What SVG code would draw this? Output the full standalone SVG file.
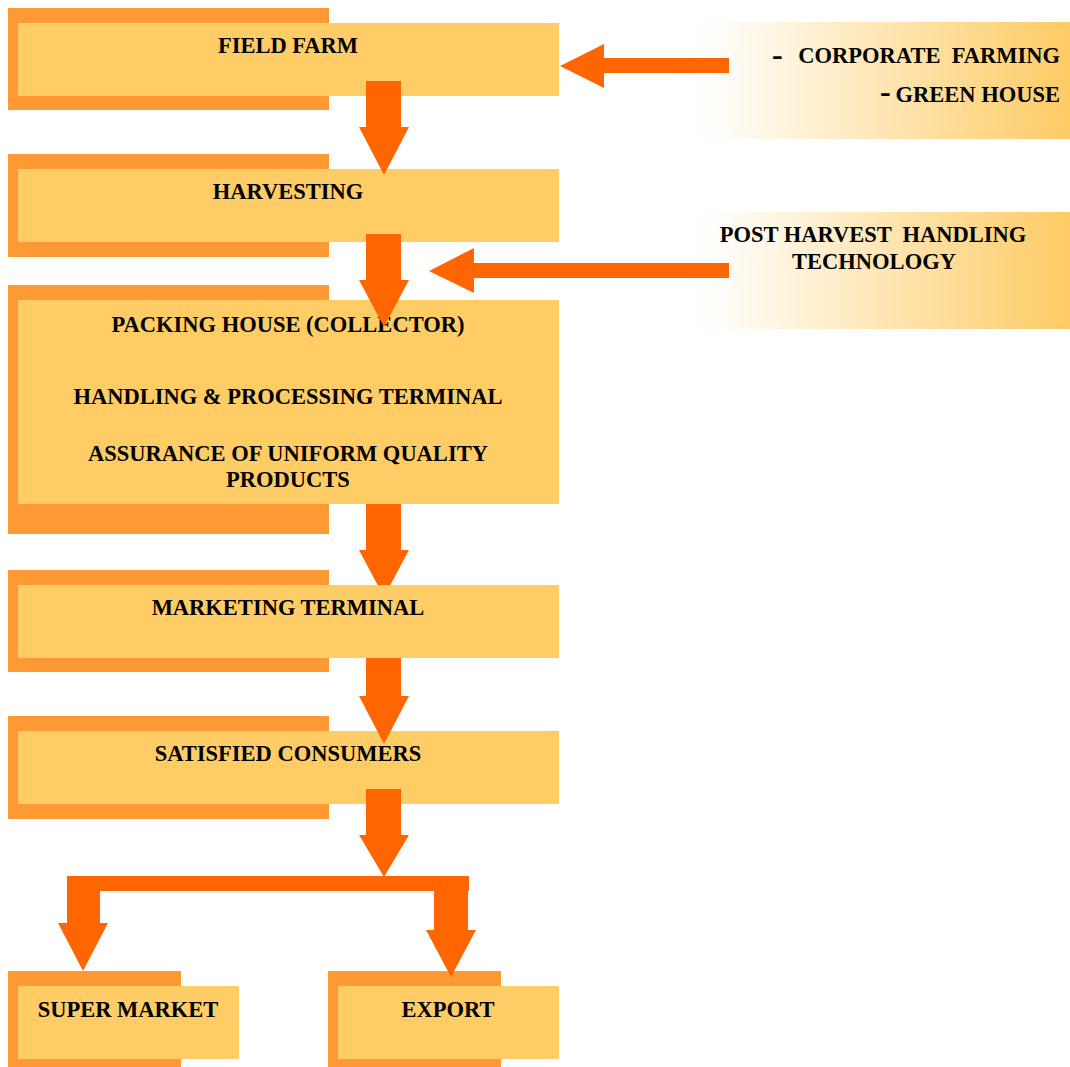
<svg xmlns="http://www.w3.org/2000/svg" width="1070" height="1067" viewBox="0 0 1070 1067">
  <defs>
    <linearGradient id="fade" x1="0" y1="0" x2="1" y2="0">
      <stop offset="0" stop-color="#FFFFFF"/>
      <stop offset="0.1" stop-color="#FFFDF9"/>
      <stop offset="1" stop-color="#FECB65"/>
    </linearGradient>
    <style>
      .back { fill: #FF9933; }
      .front { fill: #FFCC66; }
      .side { fill: url(#fade); }
      .arrow { fill: #FF6600; }
      text { font-family: "Liberation Serif", "Times New Roman", serif; font-weight: bold; font-size: 22.5px; fill: #000; white-space: pre; }
      .c { text-anchor: middle; }
      .r { text-anchor: end; }
      .dash { font-size: 32px; }
    </style>
  </defs>
  <rect width="1070" height="1067" fill="#FFFFFF"/>

  <g id="field-farm">
    <rect class="back" x="8" y="8" width="321" height="102"/>
    <rect class="front" x="18" y="23" width="541" height="73"/>
    <text class="c" x="288" y="53">FIELD FARM</text>
  </g>

  <g id="harvesting">
    <rect class="back" x="8" y="154" width="321" height="103"/>
    <rect class="front" x="18" y="169" width="541" height="73"/>
    <text class="c" x="288" y="199">HARVESTING</text>
  </g>

  <g id="packing-house">
    <rect class="back" x="8" y="285" width="321" height="249"/>
    <rect class="front" x="18" y="300" width="541" height="204"/>
    <text class="c" x="288" y="332">PACKING HOUSE (COLLECTOR)</text>
    <text class="c" x="288" y="404">HANDLING &amp; PROCESSING TERMINAL</text>
    <text class="c" x="288" y="461">ASSURANCE OF UNIFORM QUALITY</text>
    <text class="c" x="288" y="487">PRODUCTS</text>
  </g>

  <g id="marketing-terminal">
    <rect class="back" x="8" y="570" width="321" height="102"/>
    <rect class="front" x="18" y="585" width="541" height="73"/>
    <text class="c" x="288" y="615">MARKETING TERMINAL</text>
  </g>

  <g id="satisfied-consumers">
    <rect class="back" x="8" y="716" width="321" height="103"/>
    <rect class="front" x="18" y="731" width="541" height="73"/>
    <text class="c" x="288" y="761">SATISFIED CONSUMERS</text>
  </g>

  <g id="super-market">
    <rect class="back" x="8" y="971" width="173" height="96"/>
    <rect class="front" x="18" y="986" width="221" height="73"/>
    <text class="c" x="128" y="1017">SUPER MARKET</text>
  </g>

  <g id="export">
    <rect class="back" x="328" y="971" width="173" height="96"/>
    <rect class="front" x="338" y="986" width="221" height="73"/>
    <text class="c" x="448" y="1017">EXPORT</text>
  </g>

  <g id="farming-methods">
    <rect class="side" x="683" y="22" width="387" height="117"/>
    <text class="dash" x="772" y="65">-</text>
    <text class="r" x="1060" y="63">CORPORATE  FARMING</text>
    <text class="dash" x="880" y="102">-</text>
    <text class="r" x="1060" y="102">GREEN HOUSE</text>
  </g>

  <g id="post-harvest-technology">
    <rect class="side" x="683" y="212" width="387" height="117"/>
    <text class="c" x="873" y="242">POST HARVEST  HANDLING</text>
    <text class="c" x="874" y="269">TECHNOLOGY</text>
  </g>

  <g id="connectors">
    <!-- inputs from the right -->
    <polygon class="arrow" points="729,58 604,58 604,44 560,66 604,88 604,73 729,73"/>
    <polygon class="arrow" points="729,263 474,263 474,248 429,271 474,293 474,278 729,278"/>
    <!-- main flow -->
    <polygon class="arrow" points="366,81 401,81 401,127 409,127 384,175 359,127 366,127"/>
    <polygon class="arrow" points="366,234 401,234 401,280 409,280 384,327 359,280 366,280"/>
    <polygon class="arrow" points="366,504 401,504 401,550 409,550 390.4,585 377.6,585 359,550 366,550"/>
    <polygon class="arrow" points="366,658 401,658 401,696 409,696 384,744 359,696 366,696"/>
    <polygon class="arrow" points="366,789 401,789 401,835 409,835 384,877 359,835 366,835"/>
    <!-- split to the two outlets -->
    <rect class="arrow" x="67" y="876" width="402" height="15"/>
    <polygon class="arrow" points="67,876 100,876 100,923 108,923 83,971 58,923 67,923"/>
    <polygon class="arrow" points="434,876 468,876 468,930 476,930 451,977 426,930 434,930"/>
  </g>
</svg>
